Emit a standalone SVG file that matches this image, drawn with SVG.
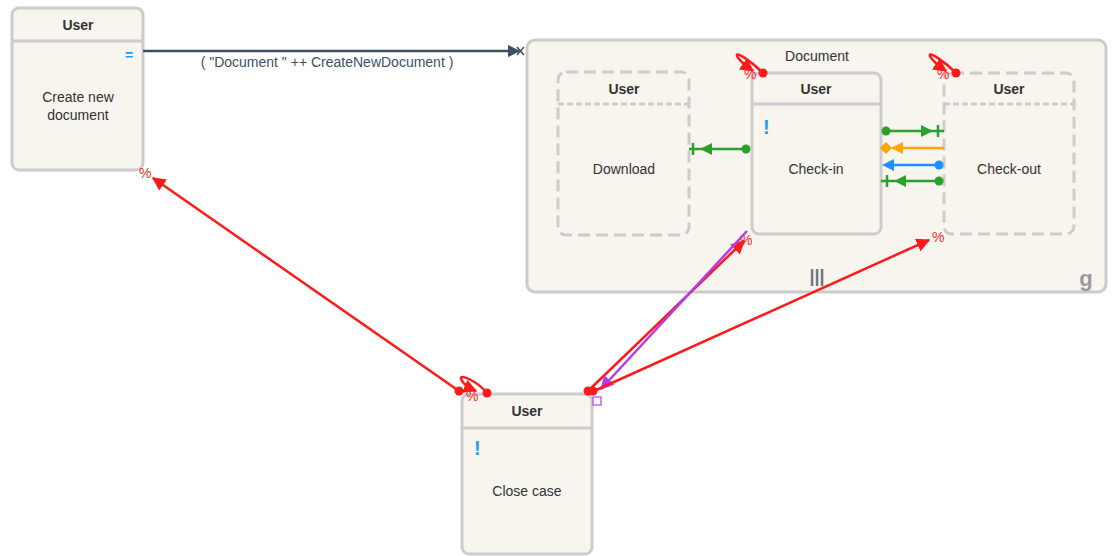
<svg xmlns="http://www.w3.org/2000/svg" width="1114" height="556" viewBox="0 0 1114 556">
<style>
text{font-family:"Liberation Sans",Arial,sans-serif;fill:#333}
.box{fill:#f7f5ee;stroke:#cccccc;stroke-width:3}
.dash{fill:#f7f5ee;stroke:#cccccc;stroke-width:3;stroke-dasharray:12 6}
.hd{stroke:#cccccc;stroke-width:3}
.ttl{font-size:14px;font-weight:bold;text-anchor:middle}
.lbl{font-size:14px;text-anchor:middle}
.bang{font-size:20px;font-weight:bold;fill:#1ea0f0}
.pct{font-size:14px;fill:#ff2a2a}
.red{stroke:#ff1a1a;stroke-width:2.5;fill:none}
</style>
<defs>
<marker id="ar" viewBox="0 0 10 10" refX="9" refY="5" markerWidth="5.5" markerHeight="5.5" orient="auto-start-reverse"><path d="M0,0 L10,5 L0,10 z" fill="#ff1a1a"/></marker>
<marker id="ap" viewBox="0 0 10 10" refX="9" refY="5" markerWidth="5.5" markerHeight="5.5" orient="auto"><path d="M0,0 L10,5 L0,10 z" fill="#b23cf0"/></marker>
<marker id="ad" viewBox="0 0 10 10" refX="9" refY="5" markerWidth="5" markerHeight="5" orient="auto"><path d="M0,0 L10,5 L0,10 z" fill="#3d4f66"/></marker>
</defs>

<g id="document-group">
<rect class="box" x="527" y="40" width="579" height="252" rx="8"/>
<text class="lbl" x="817" y="61">Document</text>
<text x="817" y="282" font-size="18" font-weight="bold" text-anchor="middle" style="fill:#6b7680">|||</text>
<text x="1086" y="286" font-size="22" font-weight="bold" text-anchor="middle" style="fill:#999">g</text>
</g>

<g id="node-create">
<rect class="box" x="12" y="8" width="131" height="162" rx="7"/>
<line class="hd" x1="12" y1="41" x2="143" y2="41"/>
<text class="ttl" x="78" y="30">User</text>
<text x="129" y="60" font-size="14" font-weight="bold" text-anchor="middle" style="fill:#1ea0f0">=</text>
<text class="lbl" x="78" y="102">Create new</text>
<text class="lbl" x="78" y="120">document</text>
</g>

<g id="node-download">
<rect class="dash" x="558" y="72" width="131" height="163" rx="8"/>
<line class="hd" x1="558" y1="104" x2="689" y2="104" stroke-dasharray="6 3"/>
<text class="ttl" x="624" y="94">User</text>
<text class="lbl" x="624" y="174">Download</text>
</g>

<g id="node-checkin">
<rect class="box" x="752" y="73" width="129" height="161" rx="7"/>
<line class="hd" x1="752" y1="104" x2="881" y2="104"/>
<text class="ttl" x="816" y="94">User</text>
<text class="bang" x="763" y="134">!</text>
<text class="lbl" x="816" y="174">Check-in</text>
</g>

<g id="node-checkout">
<rect class="dash" x="944" y="73" width="130" height="161" rx="8"/>
<line class="hd" x1="944" y1="104" x2="1074" y2="104" stroke-dasharray="6 3"/>
<text class="ttl" x="1009" y="94">User</text>
<text class="lbl" x="1009" y="174">Check-out</text>
</g>

<g id="node-close">
<rect class="box" x="462" y="394" width="130" height="160" rx="7"/>
<line class="hd" x1="462" y1="428" x2="592" y2="428"/>
<text class="ttl" x="527" y="416">User</text>
<text class="bang" x="474" y="455">!</text>
<text class="lbl" x="527" y="496">Close case</text>
</g>

<g id="connectors">
<line x1="143" y1="51" x2="519" y2="51" stroke="#3d4f66" stroke-width="2.5" marker-end="url(#ad)"/>
<path d="M517,47 L524,55 M524,47 L517,55" stroke="#3d4f66" stroke-width="1.5"/>
<text x="327" y="67" font-size="14" text-anchor="middle" style="fill:#3d4f66">( "Document " ++ CreateNewDocument )</text>

<line x1="746" y1="149" x2="689" y2="149" stroke="#2ca02c" stroke-width="2.5"/>
<circle cx="746" cy="149" r="4.5" fill="#2ca02c"/>
<path d="M712,143 L700,149 L712,155 z" fill="#2ca02c"/>
<line x1="693" y1="143" x2="693" y2="155" stroke="#2ca02c" stroke-width="2.5"/>

<line x1="886" y1="131" x2="944" y2="131" stroke="#2ca02c" stroke-width="2.5"/>
<circle cx="886" cy="131" r="4.5" fill="#2ca02c"/>
<path d="M921,125 L933,131 L921,137 z" fill="#2ca02c"/>
<line x1="938" y1="125" x2="938" y2="137" stroke="#2ca02c" stroke-width="2.5"/>

<line x1="944" y1="148" x2="892" y2="148" stroke="#ffa500" stroke-width="2.5"/>
<path d="M903,142 L891,148 L903,154 z" fill="#ffa500"/>
<path d="M880,148 L886,142 L892,148 L886,154 z" fill="#ffa500"/>

<line x1="939" y1="165" x2="886" y2="165" stroke="#1e90ff" stroke-width="2.5"/>
<circle cx="939" cy="165" r="4.5" fill="#1e90ff"/>
<path d="M894,159 L882,165 L894,171 z" fill="#1e90ff"/>

<line x1="939" y1="181" x2="881" y2="181" stroke="#2ca02c" stroke-width="2.5"/>
<circle cx="939" cy="181" r="4.5" fill="#2ca02c"/>
<path d="M906,175 L894,181 L906,187 z" fill="#2ca02c"/>
<line x1="887" y1="175" x2="887" y2="187" stroke="#2ca02c" stroke-width="2.5"/>

<line class="red" x1="459" y1="391" x2="153" y2="178" marker-end="url(#ar)"/>
<circle cx="459" cy="391" r="4.5" fill="#ff1a1a"/>
<text class="pct" x="139" y="178">%</text>

<path class="red" d="M487,393 C477,381 459,373 461,379 C463,384 469,388 476,391" marker-end="url(#ar)"/>
<circle cx="487" cy="393" r="4.5" fill="#ff1a1a"/>
<text class="pct" x="466" y="401" font-size="13">%</text>

<path class="red" d="M763,73 C752,62 735,50 737,56 C739,61 746,66 753,71" marker-end="url(#ar)"/>
<circle cx="763" cy="73" r="4.5" fill="#ff1a1a"/>
<text class="pct" x="744" y="79" font-size="13">%</text>

<path class="red" d="M956,73 C945,62 928,50 930,56 C932,61 939,66 946,71" marker-end="url(#ar)"/>
<circle cx="956" cy="73" r="4.5" fill="#ff1a1a"/>
<text class="pct" x="937" y="79" font-size="13">%</text>

<line class="red" x1="588" y1="391" x2="744" y2="241" marker-end="url(#ar)"/>
<text class="pct" x="740" y="245">%</text>

<line x1="747" y1="231" x2="601" y2="389" stroke="#b23cf0" stroke-width="2.5" marker-end="url(#ap)"/>
<rect x="593" y="397" width="8" height="8" fill="#fff" stroke="#b23cf0" stroke-width="1.2"/>

<line class="red" x1="594" y1="391" x2="929" y2="240" marker-end="url(#ar)"/>
<text class="pct" x="932" y="242">%</text>

<circle cx="588" cy="391" r="4.5" fill="#ff1a1a"/>
<circle cx="593" cy="391" r="4.5" fill="#ff1a1a"/>
</g>
</svg>
